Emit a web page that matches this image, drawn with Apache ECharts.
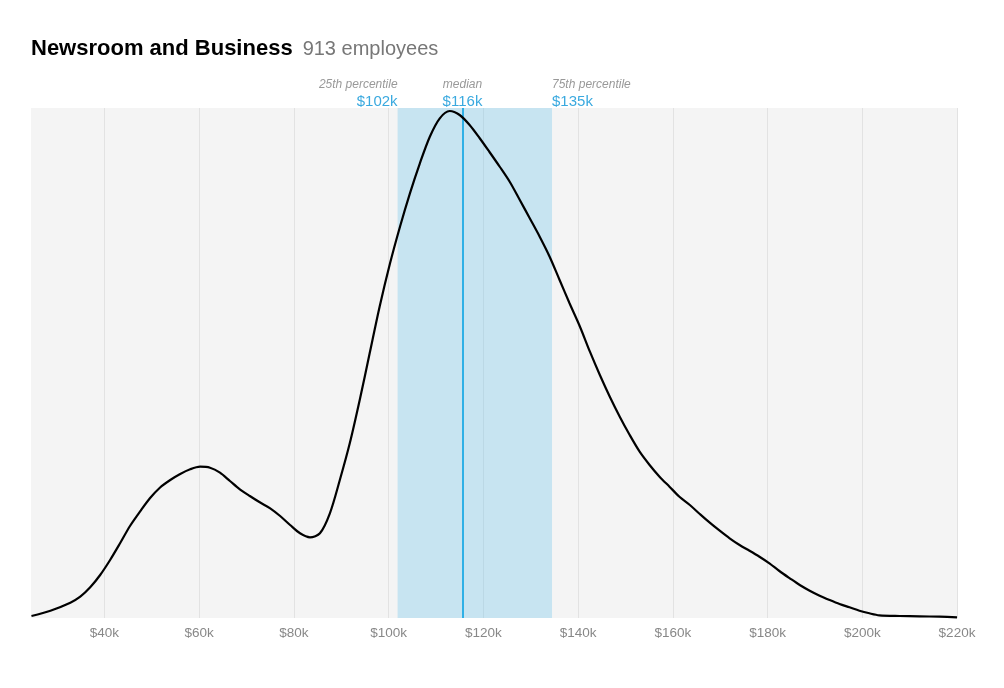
<!DOCTYPE html>
<html lang="en">
<head>
    <meta charset="UTF-8">
    <title>Newsroom and Business</title>
    <style>
        html, body { margin: 0; padding: 0; background: #fff; }
    </style>
</head>
<body>
<div id="main" style="width:1004px;height:688px;"></div>
<script src="https://cdn.jsdelivr.net/npm/echarts@6/dist/echarts.min.js"></script>
<script>
    // salary in $k and the density curve height
    var salary = [24.6, 28.6, 32.8, 34.9, 37.0, 39.1, 41.2, 43.3, 45.4, 47.5, 49.6, 51.7, 53.9, 56.0, 58.1, 60.2,
        62.3, 64.4, 66.5, 68.6, 70.7, 72.8, 75.0, 77.1, 79.2, 81.3, 83.4, 85.5, 87.6, 89.7, 91.8, 93.9, 96.0,
        98.1, 100.3, 102.4, 104.5, 106.6, 108.7, 110.8, 112.9, 115.0, 117.1, 119.2, 121.3, 123.5, 125.6, 127.7,
        129.8, 131.9, 134.0, 136.1, 138.2, 140.4, 142.5, 144.6, 146.7, 148.8, 150.9, 153.0, 155.1, 157.2, 159.3,
        161.4, 163.6, 165.7, 167.8, 169.9, 172.0, 174.1, 176.2, 178.3, 180.4, 182.5, 184.7, 186.8, 188.9, 191.0,
        193.1, 195.2, 197.3, 199.4, 201.5, 203.6, 207.9, 212.1, 216.3, 220];
    var density = [2, 7.3, 15.3, 21.3, 30.7, 43, 58, 74.7, 92, 106.3, 119.7, 130.3, 138, 144, 148.7, 151.3,
        150.3, 145.3, 137, 128.7, 122, 115.7, 109.7, 102, 93, 84.7, 80.7, 84.7, 104.7, 138, 174.7, 218, 264.7,
        311.3, 354.7, 391.3, 424.7, 454.7, 481.3, 499.7, 507, 503, 493, 480, 466, 451, 436, 418,
        399.7, 381.3, 361.3, 338, 314.7, 291.3, 266.3, 243, 221.3, 201.3, 183, 166.3, 153, 141.3, 131.3,
        121.3, 113, 104, 95.3, 87.3, 79.7, 73, 67.3, 61.3, 54.7, 47, 39.7, 33, 27.3, 22.3,
        18, 14, 10.7, 7.3, 4.7, 2.7, 2, 1.7, 1.3, 0.7];
    var tickValues = [40, 60, 80, 100, 120, 140, 160, 180, 200, 220];
    var q1 = 101.9, median = 115.6, q3 = 134.5;
    var q1Label = '$102k', medianLabel = '$116k', q3Label = '$135k';
    var employees = 913;

    var myChart = echarts.init(document.getElementById('main'));

    var labelRich = {
        t: { fontSize: 12, fontStyle: 'italic', color: '#999', fontFamily: 'Liberation Sans', lineHeight: 16 },
        v: { fontSize: 15, color: '#3aa9df', fontFamily: 'Liberation Sans', lineHeight: 17 }
    };

    var option = {
        backgroundColor: '#fff',
        title: {
            left: 26,
            top: 33,
            text: '{a|Newsroom and Business}  {b|' + employees + ' employees}',
            textStyle: {
                rich: {
                    a: { fontSize: 22, fontWeight: 'bold', color: '#000', fontFamily: 'Liberation Sans' },
                    b: { fontSize: 20, fontWeight: 'normal', color: '#777', fontFamily: 'Liberation Sans' }
                }
            }
        },
        grid: {
            left: 31,
            right: 47,
            top: 108,
            bottom: 70,
            show: true,
            backgroundColor: '#f4f4f4',
            borderWidth: 0
        },
        xAxis: {
            type: 'value',
            min: 24.5,
            max: 220,
            axisLine: { show: false },
            axisTick: { show: false, customValues: tickValues },
            axisLabel: {
                customValues: tickValues,
                formatter: function (v) { return '$' + v + 'k'; },
                color: '#888',
                fontSize: 13.5,
                fontFamily: 'Liberation Sans',
                margin: 8
            },
            splitLine: {
                show: true,
                lineStyle: { color: '#e2e2e2', width: 1 }
            }
        },
        yAxis: {
            type: 'value',
            min: 0,
            max: 510,
            show: false,
            splitLine: { show: false }
        },
        series: [
            {
                type: 'line',
                data: salary.map(function (s, i) { return [s, density[i]]; }),
                smooth: 0.3,
                symbol: 'none',
                lineStyle: { color: '#000', width: 2.2 },
                z: 5,
                markArea: {
                    silent: true,
                    itemStyle: { color: 'rgba(107,197,237,0.32)' },
                    data: [[{ xAxis: q1 }, { xAxis: q3 }]]
                },
                markLine: {
                    silent: true,
                    symbol: ['none', 'none'],
                    animation: false,
                    data: [
                        {
                            xAxis: q1,
                            lineStyle: { color: 'rgba(0,0,0,0)', width: 0 },
                            label: {
                                position: 'end', align: 'right', distance: 1, offset: [0, 3],
                                formatter: '{t|25th percentile}\n{v|' + q1Label + '}', rich: labelRich
                            }
                        },
                        {
                            xAxis: median,
                            lineStyle: { color: '#2fb0e6', width: 2, type: 'solid' },
                            label: {
                                position: 'end', align: 'center', distance: 1, offset: [0, 3],
                                formatter: '{t|median}\n{v|' + medianLabel + '}', rich: labelRich
                            }
                        },
                        {
                            xAxis: q3,
                            lineStyle: { color: 'rgba(0,0,0,0)', width: 0 },
                            label: {
                                position: 'end', align: 'left', distance: 1, offset: [0, 3],
                                formatter: '{t|75th percentile}\n{v|' + q3Label + '}', rich: labelRich
                            }
                        }
                    ]
                }
            }
        ]
    };
    myChart.setOption(option);
</script>
</body>
</html>
